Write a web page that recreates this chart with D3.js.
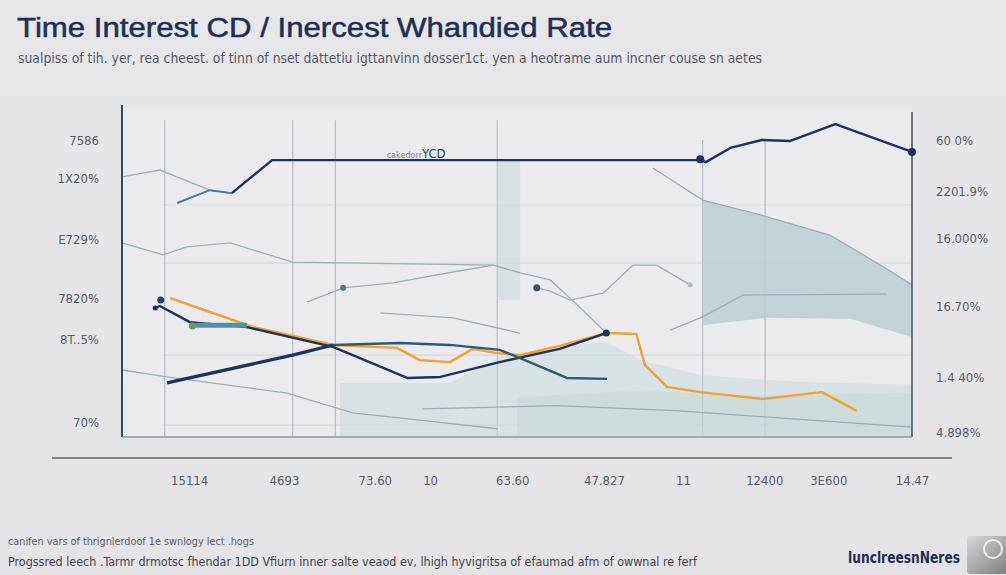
<!DOCTYPE html>
<html><head><meta charset="utf-8">
<script src="https://cdn.jsdelivr.net/npm/d3@7"></script>
<style>
html,body{margin:0;padding:0;background:#e9e9eb;}
svg{display:block;}
</style></head>
<body>
<svg id="chart" width="1006" height="575"></svg>
<script>
// ---- data (x: 0-100 period index, y: 0-100 rate index) ----
const xTickValues = [8.5, 20.5, 32, 39, 49.4, 61, 71, 81.3, 89.4, 100];
const xTickLabels = ["15114", "4693", "73.60", "10", "63.60", "47.827", "11", "12400", "3E600", "14.47"];
const leftTickValues = [89.7, 78.2, 59.7, 41.8, 29.4, 4.2];
const leftTickLabels = ["7586", "1X20%", "E729%", "7820%", "8T..5%", "70%"];
const rightTickValues = [89.7, 74.2, 60.0, 39.4, 17.9, 1.2];
const rightTickLabels = ["60 0%", "2201.9%", "16.000%", "16.70%", "1.4 40%", "4.898%"];
const vGrid = [5.4, 21.6, 27.0, 47.5, 73.5, 81.4];
const hGrid = [70.3, 52.7, 24.8, 3.6];

const navyTopLead = [[7.0,70.9],[11.1,74.8],[13.9,73.9]];
const navyTop = [[13.9,73.9],[19.0,83.9],[73.2,83.9],[73.9,83.3],[77.0,87.6],[81.0,90.0],[84.6,89.7],[90.3,94.8],[100,86.4]];
const navyLow = [[4.2,39.1],[4.8,39.7],[8.6,34.8],[15.8,33.3],[26.7,27.3],[36.1,17.9],[40.3,18.2],[47.8,22.7],[55.4,26.7],[61.3,31.5]];
const tealSeg = [[8.9,33.9],[15.8,33.9]];
const navySecond = [[5.7,16.4],[21.6,24.8],[26.7,27.9]];
const tealSecond = [[26.7,27.9],[35.2,28.5],[41.5,27.9],[47.8,26.4],[50.4,23.9],[56.3,17.9],[61.4,17.6]];
const orangeRate = [[6.1,42.1],[8.6,40.0],[16.6,33.3],[26.7,27.9],[34.8,27.0],[37.7,23.3],[41.5,22.7],[44.4,26.7],[47.3,25.5],[50.4,24.8],[55.4,27.6],[61.3,31.5],[65.1,31.2],[66.2,21.8],[69.0,15.2],[73.2,13.6],[81.1,11.5],[88.6,13.6],[93.0,7.9]];
const grayA = [[0,78.8],[4.8,80.9],[11.1,74.8],[13.7,73.9]];
const grayB = [[0,58.8],[5.2,55.2],[8.2,57.6],[13.7,58.8],[21.6,53.0],[47.0,52.1],[50.4,49.7],[54.2,47.6],[56.7,42.1],[61.3,31.5]];
const grayC = [[23.4,40.9],[28.0,45.2],[34.3,46.7],[41.9,50.0],[47.0,52.1]];
const grayD = [[52.5,45.2],[54.2,44.2],[56.7,41.5],[60.9,43.6],[64.7,52.1],[67.7,52.1],[71.9,46.1]];
const grayE = [[67.2,81.5],[73.5,71.8],[80.8,67.3],[89.6,61.2],[96.0,52.1],[100,46.1]];
const grayF = [[32.7,37.6],[41.9,36.1],[50.4,31.5]];
const grayG = [[0,20.3],[5.7,18.2],[20.9,13.3],[29.2,7.3],[40.0,4.5],[47.5,2.5]];
const grayH = [[69.4,32.4],[73.5,36.4],[78.6,43.0],[96.8,43.3]];
const grayI = [[38.0,8.5],[55.0,9.5],[70.0,8.0],[85.0,5.5],[100,3.0]];
const areaRightTop = [[73.5,71.8],[80.8,67.3],[89.6,61.2],[96.0,52.1],[100,46.1]];
const areaRightBottom = [[73.5,33.9],[81.4,36.1],[92.2,35.8],[100,30.3]];
const areaLowTop = [[27.6,16.4],[41.5,16.4],[47.8,24.2],[55.4,27.6],[61.3,28.8],[65.6,23.3],[73.2,18.8],[85.8,16.7],[100,15.8]];
const areaLow2Top = [[50.0,12.0],[65.0,14.0],[80.0,12.5],[100,13.5]];
const stripX = [47.5, 50.4];
const stripY = [41.5, 83.9];

const title = "Time Interest  CD / Inercest Whandied Rate";
const subtitle = "sualpiss of tih. yer, rea cheest. of tinn of nset dattetiu igttanvinn dosser1ct. yen  a heotrame aum incner couse sn aetes";
const foot1 = "canifen vars of thrignlerdoof 1e swnlogy lect .hogs";
const foot2 = "Progssred leech .Tarmr drmotsc fhendar 1DD Vfiurn inner salte veaod ev, lhigh hyvigritsa of efaumad afm of owwnal re ferf";
const brand = "lunclreesnNeres";

// ---- drawing ----
const svg = d3.select("#chart");
const x = d3.scaleLinear().domain([0,100]).range([122,912]);
const y = d3.scaleLinear().domain([0,100]).range([437,107]);
const line = d3.line().x(d=>x(d[0])).y(d=>y(d[1]));
const narrow = "'Liberation Sans Narrow','DejaVu Sans Condensed','Liberation Sans',sans-serif";

// background
const defs = svg.append("defs");
const bg = defs.append("linearGradient").attr("id","bg").attr("x1",0).attr("y1",0).attr("x2",0).attr("y2",1);
bg.append("stop").attr("offset","0%").attr("stop-color","#e7e7e9");
bg.append("stop").attr("offset","100%").attr("stop-color","#e4e4e6");
svg.append("rect").attr("width",1006).attr("height",575).attr("fill","url(#bg)");
svg.append("rect").attr("x",x(0)).attr("y",y(100)).attr("width",x(100)-x(0)).attr("height",y(0)-y(100)).attr("fill","#ebebed");

// title
svg.append("text").attr("x",17).attr("y",37).attr("font-family","'Liberation Sans',Arial,sans-serif")
  .attr("font-size",27).attr("fill","#1f2f52").attr("stroke","#1f2f52").attr("stroke-width",0.5)
  .attr("textLength",595).attr("lengthAdjust","spacingAndGlyphs").text(title);
svg.append("text").attr("x",18).attr("y",63).attr("font-family",narrow)
  .attr("font-size",14).attr("fill","#55595f").attr("textLength",744).attr("lengthAdjust","spacingAndGlyphs").text(subtitle);

// grids
svg.append("g").selectAll("line").data(hGrid).join("line")
  .attr("x1",x(5)).attr("x2",x(100)).attr("y1",d=>y(d)).attr("y2",d=>y(d))
  .attr("stroke","#d6dbdf").attr("stroke-width",1.2);
svg.append("g").selectAll("line").data(vGrid).join("line")
  .attr("x1",d=>x(d)).attr("x2",d=>x(d)).attr("y1",d=>y(96 - (d>70? 6:0))).attr("y2",y(0))
  .attr("stroke","#b4bcc3").attr("stroke-width",1.2);

// areas
svg.append("rect").attr("x",x(stripX[0])).attr("width",x(stripX[1])-x(stripX[0]))
  .attr("y",y(stripY[1])).attr("height",y(stripY[0])-y(stripY[1])).attr("fill","#cfdbdd").attr("opacity",0.7);
const areaPath = (top,bottom) => {
  const pts = top.concat(bottom.slice().reverse());
  return d3.line().x(d=>x(d[0])).y(d=>y(d[1])).curve(d3.curveLinearClosed)(pts);
};
svg.append("path").attr("d",areaPath(areaLowTop,[[27.6,0],[100,0]])).attr("fill","#c9d9db").attr("opacity",0.55);
svg.append("path").attr("d",areaPath(areaLow2Top,[[50,0],[100,0]])).attr("fill","#c3d5d8").attr("opacity",0.4);
svg.append("path").attr("d",areaPath(areaRightTop,areaRightBottom)).attr("fill","#b6cdd0").attr("opacity",0.8);

// gray thin lines
[grayA,grayB,grayC,grayD,grayE,grayF,grayG,grayH,grayI].forEach(s=>{
  svg.append("path").attr("d",line(s)).attr("fill","none").attr("stroke","#9fadb7").attr("stroke-width",1.3);
});

// axes lines
svg.append("line").attr("x1",x(0)).attr("x2",x(0)).attr("y1",y(100.6)).attr("y2",y(0)).attr("stroke","#34485c").attr("stroke-width",2);
svg.append("line").attr("x1",x(100)).attr("x2",x(100)).attr("y1",y(98.5)).attr("y2",y(0)).attr("stroke","#4a5866").attr("stroke-width",1.6);
svg.append("line").attr("x1",x(0)).attr("x2",x(100)).attr("y1",y(0)).attr("y2",y(0)).attr("stroke","#8d979f").attr("stroke-width",1.4);

// main series
svg.append("path").attr("d",line(navyTopLead)).attr("fill","none").attr("stroke","#4f7896").attr("stroke-width",2);
svg.append("path").attr("d",line(navyTop)).attr("fill","none").attr("stroke","#1f3358").attr("stroke-width",2.4).attr("stroke-linejoin","round");
svg.append("path").attr("d",line(orangeRate)).attr("fill","none").attr("stroke","#eda232").attr("stroke-width",2.4).attr("stroke-linejoin","round");
svg.append("path").attr("d",line(navyLow)).attr("fill","none").attr("stroke","#1f3358").attr("stroke-width",2.4).attr("stroke-linejoin","round");
svg.append("path").attr("d",line(tealSeg)).attr("fill","none").attr("stroke","#4f94a6").attr("stroke-width",5);
svg.append("path").attr("d",line(navySecond)).attr("fill","none").attr("stroke","#1f3358").attr("stroke-width",3.2);
svg.append("path").attr("d",line(tealSecond)).attr("fill","none").attr("stroke","#2e5a70").attr("stroke-width",2.4).attr("stroke-linejoin","round");

// dots
const dots = [
  {p:[73.2,84.2], r:4, f:"#1f3358"},
  {p:[100,86.4], r:4, f:"#1f3358"},
  {p:[61.3,31.5], r:3.5, f:"#1f3358"},
  {p:[4.9,41.5], r:3.5, f:"#2a4370"},
  {p:[4.2,39.1], r:2.5, f:"#1f3358"},
  {p:[8.9,33.6], r:3.5, f:"#6c9a6a"},
  {p:[28.0,45.2], r:3, f:"#4a7892"},
  {p:[52.5,45.2], r:3.5, f:"#38526e"},
  {p:[71.9,46.1], r:2.5, f:"#a9bcc4"}
];
svg.append("g").selectAll("circle").data(dots).join("circle")
  .attr("cx",d=>x(d.p[0])).attr("cy",d=>y(d.p[1])).attr("r",d=>d.r).attr("fill",d=>d.f);

// inline label
const lab = svg.append("text").attr("x",x(33.5)).attr("y",y(84.5)).attr("font-family",narrow);
lab.append("tspan").attr("font-size",9).attr("fill","#7a8088").text("cakedorr");
lab.append("tspan").attr("font-size",13).attr("fill","#2a3a5a").text("YCD");

// left/right tick labels
svg.append("g").selectAll("text").data(leftTickValues).join("text")
  .attr("x",99).attr("y",d=>y(d)+4).attr("text-anchor","end").attr("font-family",narrow)
  .attr("font-size",13).attr("fill","#585d64").text((d,i)=>leftTickLabels[i]);
svg.append("g").selectAll("text").data(rightTickValues).join("text")
  .attr("x",936).attr("y",d=>y(d)+4).attr("text-anchor","start").attr("font-family",narrow)
  .attr("font-size",13).attr("fill","#585d64").text((d,i)=>rightTickLabels[i]);

// bottom axis
svg.append("line").attr("x1",52).attr("x2",952).attr("y1",458).attr("y2",458).attr("stroke","#5a6168").attr("stroke-width",1.6);
const xAxis = d3.axisBottom(x).tickValues(xTickValues).tickFormat((d,i)=>xTickLabels[i]).tickSize(0).tickPadding(18);
const gx = svg.append("g").attr("transform","translate(0,458)").call(xAxis);
gx.select(".domain").remove();
gx.selectAll("text").attr("font-family",narrow).attr("font-size",13).attr("fill","#585d64");

// footer
svg.append("text").attr("x",8).attr("y",545).attr("font-family",narrow).attr("font-size",11).attr("fill","#5a5f66")
  .attr("textLength",246).attr("lengthAdjust","spacingAndGlyphs").text(foot1);
svg.append("text").attr("x",8).attr("y",566).attr("font-family",narrow).attr("font-size",12).attr("fill","#3f444a")
  .attr("textLength",689).attr("lengthAdjust","spacingAndGlyphs").text(foot2);
svg.append("text").attr("x",848).attr("y",563).attr("font-family",narrow).attr("font-size",15).attr("font-weight","bold").attr("fill","#1f2f52")
  .attr("textLength",112).attr("lengthAdjust","spacingAndGlyphs").text(brand);
const ig = defs.append("linearGradient").attr("id","ic").attr("x1",0).attr("y1",0).attr("x2",1).attr("y2",1);
ig.append("stop").attr("offset","0%").attr("stop-color","#d8d8d8");
ig.append("stop").attr("offset","100%").attr("stop-color","#7a7a7a");
svg.append("rect").attr("x",967).attr("y",536).attr("width",45).attr("height",38).attr("rx",3).attr("fill","url(#ic)");
svg.append("circle").attr("cx",993).attr("cy",549).attr("r",9).attr("fill","none").attr("stroke","#eeeeee").attr("stroke-width",2);
</script>
</body></html>
